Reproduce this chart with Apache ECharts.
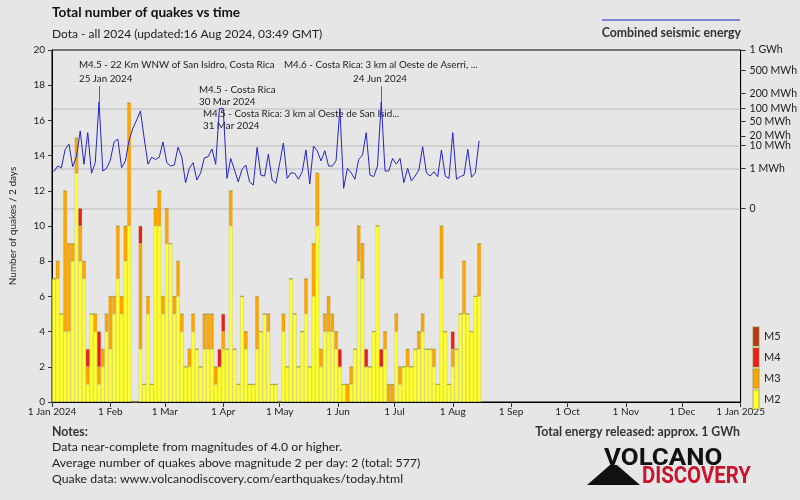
<!DOCTYPE html>
<html><head><meta charset="utf-8">
<script src="https://cdn.jsdelivr.net/npm/echarts@6/dist/echarts.min.js"></script>
<style>html,body{margin:0;padding:0;background:#e6e6e6}#c{width:800px;height:500px}</style>
</head><body><div id="c"></div>
<script>
// ---- data ----
const startDate = Date.UTC(2024, 0, 1);
const endDate = Date.UTC(2025, 0, 1);
const binDays = 2;
const m2 = [7,7,5,4,4,8,13,8,7,1, 5,4,1,2,4,3,5,7,5,8, 10,0,0,3,1,5,1,10,10,5, 9,9,5,6,4,2,2,4,3,2,
  3,3,3,1,2,3,3,10,3,1, 6,3,1,1,3,4,5,4,1,1, 0,4,2,7,5,2,4,5,2,6, 10,2,4,4,4,3,2,1,0,1,
  3,8,7,2,2,4,10,2,3,0, 0,4,1,2,2,2,3,3,4,3, 3,2,1,7,4,1,2,3,5,5, 5,4,6,6];
const m3 = [0,1,0,8,5,1,2,2,1,1, 0,1,1,1,1,3,1,3,1,2, 7,0,0,6,0,1,0,1,2,1, 2,0,1,2,1,0,1,1,0,0,
  2,2,2,1,0,1,0,2,0,0, 0,1,0,0,3,0,0,1,0,0, 0,1,0,0,0,0,0,2,0,3, 3,1,1,2,1,1,0,0,1,1,
  0,2,2,0,0,0,0,0,1,1, 1,1,1,0,1,0,0,1,1,0, 0,1,0,3,0,0,1,0,0,3, 0,0,0,3];
const m4 = [0,0,0,0,0,0,0,1,0,1, 0,0,2,0,0,0,0,0,0,0, 0,0,0,1,0,0,0,0,0,0, 0,0,0,0,0,0,0,0,0,0,
  0,0,0,0,1,1,0,0,0,0, 0,0,0,0,0,0,0,0,0,0, 0,0,0,0,0,0,0,0,0,0, 0,0,0,0,0,0,1,0,0,0,
  0,0,0,1,0,0,0,1,0,0, 0,0,0,0,0,0,0,0,0,0, 0,0,0,0,0,0,1,0,0,0, 0,0,0,0];
const m5 = [0,0,0,0,0,0,0,0,0,0, 0,0,0,0,0,0,0,0,0,0, 0,0,0,0,0,0,0,0,0,0, 0,0,0,0,0,0,0,0,0,0,
  0,0,0,0,0,0,0,0,0,0, 0,0,0,0,0,0,0,0,0,0, 0,0,0,0,0,0,0,0,0,0, 0,0,0,0,0,0,0,0,0,0,
  0,0,0,0,0,0,0,0,0,0, 0,0,0,0,0,0,0,0,0,0, 0,0,0,0,0,0,0,0,0,0, 0,0,0,0];
// combined seismic energy per bin, MWh
const energyMWh = [0.66,1.36,1.11,7.2,11,1.25,3.7,28,1.66,25, 0.53,2.0,138,0.73,1.03,2.6,13,16,1.11,2.4,
  15,33,54,88,17,1.7,3.5,2.8,3.5,13, 2.0,1.36,1.53,8.5,3.5,0.11,1.03,2.0,0.18,0.57,
  3.3,3.7,7.4,1.66,100,100,0.24,3.1,0.83,0.13, 0.91,1.53,0.13,0.069,8.5,0.41,0.35,4.7,0.18,0.098,
  1.86,12,0.24,0.57,0.53,0.21,0.66,6.8,0.085,9.4, 6.2,2.4,6.4,1.36,1.36,2.5,100,0.032,1.03,0.57,
  0.21,2.8,4.3,25,0.41,0.32,1.36,138,0.73,0.73, 3.1,1.7,3.1,0.11,1.03,0.16,0.35,0.83,8.9,0.57,
  0.35,0.66,0.32,6.8,0.35,0.24,25,0.21,0.32,0.41, 7.2,0.29,0.57,14];
const monthTicks = ['2024-01-01','2024-02-01','2024-03-01','2024-04-01','2024-05-01','2024-06-01','2024-07-01',
  '2024-08-01','2024-09-01','2024-10-01','2024-11-01','2024-12-01','2025-01-01'];
const monthNames = ['Jan','Feb','Mar','Apr','May','Jun','Jul','Aug','Sep','Oct','Nov','Dec'];
const energyTicksMWh = [0,1,10,20,50,100,200,500,1000];
const energyTickLabels = ['0','1 MWh','10 MWh','20 MWh','50 MWh','100 MWh','200 MWh','500 MWh','1 GWh'];
const energyGridMWh = [0,1,10,100];
const eventDates = ['2024-01-25','2024-03-30','2024-03-31','2024-06-24'];
const eventTitles = ['M4.5 - 22 Km WNW of San Isidro, Costa Rica','M4.5 - Costa Rica',
  'M4.5 - Costa Rica: 3 km al Oeste de San Isid...','M4.6 - Costa Rica: 3 km al Oeste de Aserri, ...'];
const eventDateLabels = ['25 Jan 2024','30 Mar 2024','31 Mar 2024','24 Jun 2024'];
const connectorEvents = [0, 3];
const connectorTopMWh = 275;

// ---- helpers ----
const DAY = 86400000;
const binCount = Math.round((endDate - startDate) / DAY / binDays);   // 2-day bins across the year
const binLabels = Array.from({ length: binCount }, (_, i) => new Date(startDate + i * binDays * DAY).toISOString().slice(0, 10));
const tE = e => Math.pow(e, 0.2);
const binOf = ds => Math.floor((Date.parse(ds + 'T00:00:00Z') - startDate) / DAY / binDays);
const monthTickValues = monthTicks.map(d => Date.parse(d + 'T00:00:00Z'));
const energyTop = tE(1000);
const energyBottom = -4.87;
const FONT = 'Lato, "Open Sans", sans-serif';

const barSeries = (name, arr, color) => ({
  name, type: 'bar', stack: 'q', xAxisIndex: 1, yAxisIndex: 0, barCategoryGap: '0%',
  data: arr,
  itemStyle: { color, borderColor: 'rgba(140,140,40,0.35)', borderWidth: 0.5 },
  emphasis: { disabled: true }, animation: false
});

const connectors = connectorEvents.map(k => {
  const b = binOf(eventDates[k]);
  return [{ coord: [b, tE(energyMWh[b])] }, { coord: [b, tE(connectorTopMWh)] }];
});

const txt = (x, y, text, opt = {}) => ({
  type: 'text', x, y, silent: true,
  style: Object.assign({ text, font: '9.8px ' + FONT, fill: '#222', align: 'left', verticalAlign: 'middle',
    textAlign: 'left', textVerticalAlign: 'middle' }, opt)
});

const chart = echarts.init(document.getElementById('c'), null, { renderer: 'canvas' });
chart.setOption({
  backgroundColor: '#e6e6e6',
  animation: false,
  textStyle: { fontFamily: FONT },
  grid: { left: 52, right: 58, top: 50, bottom: 98, show: true, borderColor: '#000', borderWidth: 1, backgroundColor: 'transparent' },
  legend: {
    data: ['M5', 'M4', 'M3', 'M2'], orient: 'vertical', left: 752, top: 326,
    itemWidth: 6, itemHeight: 19, itemGap: 0, icon: 'rect', padding: 0, selectedMode: false,
    textStyle: { fontSize: 11, color: '#222', fontFamily: FONT }
  },
  xAxis: [
    {
      type: 'value', min: startDate, max: endDate,
      axisLine: { show: true, lineStyle: { color: '#000', width: 1 } },
      axisTick: { show: true, length: 5, customValues: monthTickValues, lineStyle: { color: '#333' } },
      axisLabel: {
        customValues: monthTickValues, fontSize: 10, color: '#222', margin: 5, hideOverlap: false,
        formatter: v => { const d = new Date(v); const m = d.getUTCMonth(); return d.getUTCDate() + ' ' + monthNames[m] + (m === 0 ? ' ' + d.getUTCFullYear() : ''); }
      },
      splitLine: { show: false }
    },
    {
      type: 'category', data: binLabels, boundaryGap: true, show: false
    }
  ],
  yAxis: [
    {
      type: 'value', position: 'left', min: 0, max: 20, interval: 2,
      name: 'Number of quakes / 2 days', nameLocation: 'middle', nameGap: 34,
      nameTextStyle: { fontSize: 10, color: '#222' },
      axisLine: { show: true, lineStyle: { color: '#000' } },
      axisTick: { show: true, length: 4, lineStyle: { color: '#333' } },
      axisLabel: { fontSize: 10, color: '#222', margin: 7 },
      splitLine: { show: false }
    },
    {
      type: 'value', position: 'right', min: energyBottom, max: energyTop,
      axisLine: { show: true, lineStyle: { color: '#000' } },
      axisTick: { show: true, length: 5, inside: false, customValues: energyTicksMWh.map(tE), lineStyle: { color: '#333' } },
      axisLabel: {
        customValues: energyTicksMWh.map(tE), fontSize: 10.5, color: '#222', margin: 9,
        formatter: v => { const k = energyTicksMWh.findIndex(e => Math.abs(tE(e) - v) < 1e-6); return k >= 0 ? energyTickLabels[k] : ''; }
      },
      splitLine: { show: false }
    },
    {
      type: 'value', position: 'right', min: energyBottom, max: energyTop,
      axisLine: { show: false }, axisLabel: { show: false },
      axisTick: { show: false, customValues: energyGridMWh.map(tE) },
      splitLine: { show: true, lineStyle: { color: '#d0d0d0', width: 2 } }
    }
  ],
  series: [
    barSeries('M2', m2, '#ffff33'),
    barSeries('M3', m3, '#ffa500'),
    barSeries('M4', m4, '#ee1b1b'),
    barSeries('M5', m5, '#b5381a'),
    {
      name: 'Combined seismic energy', type: 'line', xAxisIndex: 1, yAxisIndex: 1, z: 5,
      data: energyMWh.map(tE),
      symbol: 'none', lineStyle: { color: '#2525c8', width: 1 }, emphasis: { disabled: true },
      markLine: { silent: true, symbol: ['none', 'none'], label: { show: false }, animation: false,
        lineStyle: { color: '#666', width: 1, type: 'solid' }, emphasis: { disabled: true }, data: connectors }
    }
  ],
  graphic: [
    txt(52, 13, 'Total number of quakes vs time', { font: 'bold 13.6px ' + FONT, fill: '#111' }),
    txt(52, 34, 'Dota - all 2024 (updated:16 Aug 2024, 03:49 GMT)', { font: '12px ' + FONT }),
    { type: 'line', silent: true, shape: { x1: 602, y1: 20, x2: 740, y2: 20 }, style: { stroke: '#2525c8', lineWidth: 1 } },
    txt(741, 33, 'Combined seismic energy', { font: 'bold 12.3px ' + FONT, fill: '#333', align: 'right', textAlign: 'right' }),
    txt(79, 65, eventTitles[0]),
    txt(79, 79, eventDateLabels[0]),
    txt(284, 65, eventTitles[3]),
    txt(380, 79, eventDateLabels[3], { align: 'center', textAlign: 'center' }),
    txt(199, 90, eventTitles[1]),
    txt(199, 101.5, eventDateLabels[1]),
    txt(203, 114, eventTitles[2]),
    txt(203, 126, eventDateLabels[2]),
    txt(52, 432, 'Notes:', { font: 'bold 12.3px ' + FONT, fill: '#333' }),
    txt(52, 447, 'Data near-complete from magnitudes of 4.0 or higher.', { font: '12.3px ' + FONT }),
    txt(52, 463, 'Average number of quakes above magnitude 2 per day: 2 (total: 577)', { font: '12.3px ' + FONT }),
    txt(52, 479, 'Quake data: www.volcanodiscovery.com/earthquakes/today.html', { font: '12.3px ' + FONT }),
    txt(740, 432, 'Total energy released: approx. 1 GWh', { font: 'bold 12.3px ' + FONT, fill: '#333', align: 'right', textAlign: 'right' }),
    { type: 'polygon', silent: true, shape: { points: [[587, 485], [640, 485], [617, 465], [610, 465]] }, style: { fill: '#111' } },
    { type: 'text', silent: true, x: 604, y: 459, scaleX: 1.08, style: { text: 'VOLCANO', font: 'bold 24px Roboto, sans-serif', fill: '#111', align: 'left', verticalAlign: 'middle', textAlign: 'left', textVerticalAlign: 'middle' } },
    { type: 'text', silent: true, x: 642, y: 477, scaleX: 0.886, style: { text: 'DISCOVERY', font: 'bold 23px Roboto, sans-serif', fill: '#c8142c', align: 'left', verticalAlign: 'middle', textAlign: 'left', textVerticalAlign: 'middle' } }
  ]
});
</script></body></html>
